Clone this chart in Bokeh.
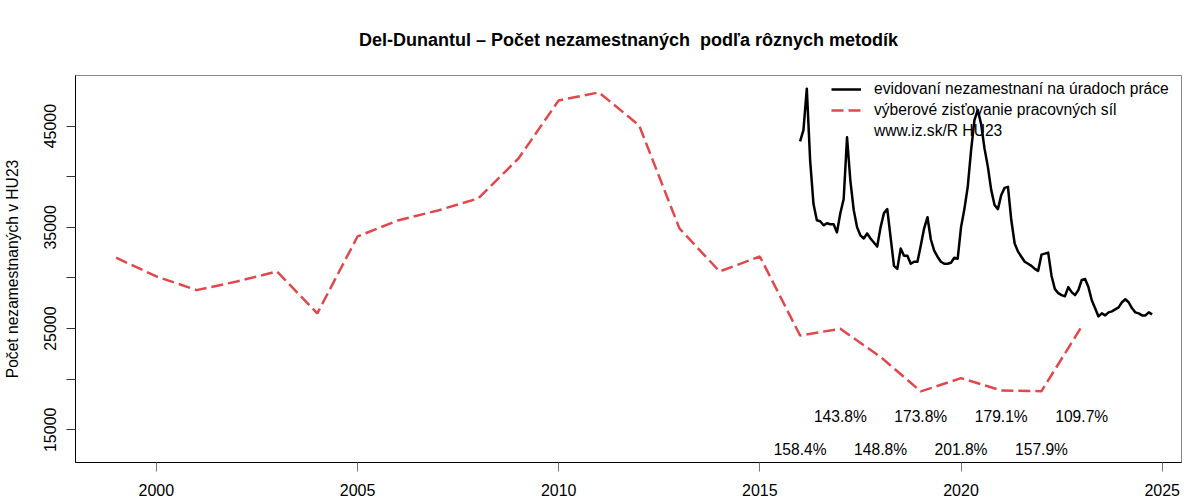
from bokeh.plotting import figure
from bokeh.models import FixedTicker, Legend, LegendItem, ColumnDataSource, Range1d, Title
from bokeh.core.properties import value
from bokeh.embed import file_html
from bokeh.resources import INLINE

# ---- data ----
survey_years = list(range(1999, 2024))
survey_values = [32000, 30150, 28800, 29650, 30640, 26500, 34100, 35680, 36670, 37860,
                 41800, 47540, 48330, 45070, 34900, 30640, 32120, 24320, 24980, 22200,
                 18790, 20100, 18890, 18820, 25210]

reg_start_year = 2016
reg_values = [43500, 44600, 48700, 41600, 37300, 35700, 35600, 35200, 35400, 35300, 35300, 34500,
              36400, 37800, 43900, 39600, 36700, 35000, 34200, 33900, 34400, 33900, 33500, 33100,
              35000, 36400, 36800, 34000, 31200, 30900, 32900, 32200, 32200, 31400, 31600, 31600,
              33200, 34900, 36000, 33800, 32700, 32100, 31600, 31400, 31400, 31500, 32000, 31900,
              35000, 36800, 39000, 42600, 45600, 46600, 45200, 42800, 41000, 38700, 37200, 36800,
              38200, 38900, 39000, 35700, 33400, 32600, 32100, 31600, 31400, 31200, 30900, 30700,
              32300, 32400, 32500, 30200, 28900, 28500, 28300, 28200, 29100, 28600, 28300, 28800,
              29800, 29900, 29100, 27800, 27000, 26200, 26500, 26300, 26600, 26700, 26900, 27100,
              27600, 27900, 27600, 27000, 26600, 26500, 26300, 26300, 26600, 26400]
reg_x = [reg_start_year + i / 12 for i in range(len(reg_values))]

ratio_years = list(range(2016, 2024))
ratio_labels = ["158.4%", "143.8%", "148.8%", "173.8%", "201.8%", "179.1%", "157.9%", "109.7%"]

x_ticks = [2000, 2005, 2010, 2015, 2020, 2025]
y_ticks = [15000, 20000, 25000, 30000, 35000, 40000, 45000]
y_tick_text = ["15000", "", "25000", "", "35000", "", "45000"]

title_text = "Del-Dunantul \u2013 Po\u010det nezamestnan\u00fdch\u00a0 pod\u013ea r\u00f4znych metod\u00edk"
y_label = "Po\u010det nezamestnan\u00fdch v HU23"
legend_labels = ["evidovan\u00ed nezamestnan\u00ed na \u00faradoch pr\u00e1ce",
                 "v\u00fdberov\u00e9 zis\u0165ovanie pracovn\u00fdch s\u00edl",
                 "www.iz.sk/R HU23"]

FONT = "Liberation Sans"
RED = "#E0484E"

p = figure(width=1200, height=500, output_backend="svg", toolbar_location=None,
           x_range=Range1d(1997.99, 2025.48), y_range=Range1d(11770, 50000),
           min_border_left=75, min_border_right=19, min_border_top=75, min_border_bottom=38)

p.title = Title(text=title_text, align="center", text_font=FONT, text_font_size="18px",
                text_font_style="bold", text_color="black", standoff=51)

p.grid.visible = False
p.outline_line_color = "#888888"
p.outline_line_width = 1
p.background_fill_color = "white"
p.border_fill_color = "white"

for ax in (p.xaxis[0], p.yaxis[0]):
    ax.axis_line_color = "black"
    ax.axis_line_width = 1
    ax.major_tick_in = 0
    ax.major_tick_out = 9
    ax.minor_tick_line_color = None
    ax.major_label_text_font = FONT
    ax.major_label_text_font_size = "16px"
    ax.major_label_text_color = "black"

p.xaxis[0].ticker = FixedTicker(ticks=x_ticks)
p.xaxis[0].major_tick_line_color = "#777777"
p.xaxis[0].major_label_standoff = 12

p.yaxis[0].ticker = FixedTicker(ticks=y_ticks)
p.yaxis[0].major_label_overrides = {t: s for t, s in zip(y_ticks, y_tick_text)}
p.yaxis[0].major_tick_line_color = "#333333"
p.yaxis[0].major_label_orientation = "vertical"
p.yaxis[0].major_label_standoff = 10
p.yaxis[0].axis_label = y_label
p.yaxis[0].axis_label_text_font = FONT
p.yaxis[0].axis_label_text_font_size = "15.6px"
p.yaxis[0].axis_label_text_font_style = "normal"
p.yaxis[0].axis_label_text_color = "black"
p.yaxis[0].axis_label_standoff = 21

r_survey = p.line(survey_years, survey_values, line_color=RED, line_width=2.5, line_dash="12 5")
r_reg = p.line(reg_x, reg_values, line_color="black", line_width=2.5, line_join="round")
r_dummy = p.line([2000], [30000], line_alpha=0)

ratio_y = [13030 if i % 2 == 0 else 16350 for i in range(len(ratio_years))]
src = ColumnDataSource(dict(x=ratio_years, y=ratio_y, t=ratio_labels))
p.text(x="x", y="y", text="t", source=src, text_align="center", text_baseline="middle",
       text_font=value(FONT), text_font_size="15.6px", text_color="black")

legend = Legend(items=[LegendItem(label=legend_labels[0], renderers=[r_reg]),
                       LegendItem(label=legend_labels[1], renderers=[r_survey]),
                       LegendItem(label=legend_labels[2], renderers=[r_dummy])],
                location=(756, 322), orientation="vertical",
                label_text_font=FONT, label_text_font_size="15.6px", label_text_color="black",
                glyph_width=30, glyph_height=16, label_height=16, spacing=3,
                label_standoff=13, padding=0, margin=0,
                background_fill_alpha=0, border_line_alpha=0)
p.add_layout(legend)

open("out.html", "w").write(file_html(p, INLINE))
